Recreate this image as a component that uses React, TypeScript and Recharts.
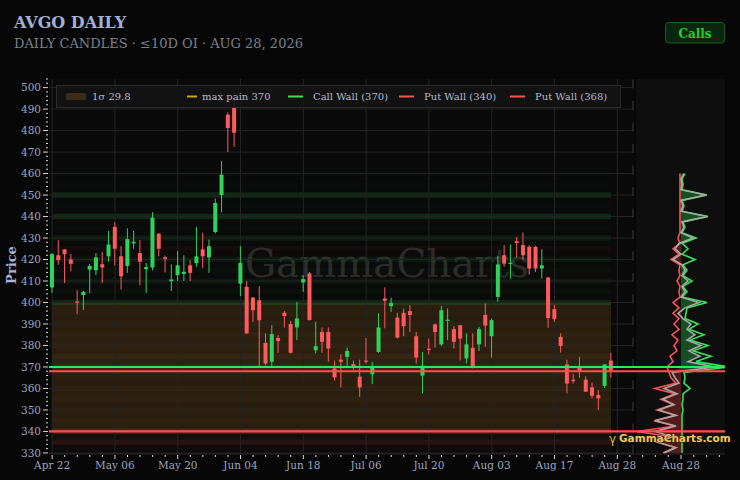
import React from 'react';
import { ComposedChart, Bar, Line, Area, XAxis, YAxis, ReferenceLine, ReferenceArea } from 'recharts';

// ---------- x axis (trading-day index) ----------
const xTickIndex = [0, 10, 20, 30, 40, 50, 60, 70, 80, 90];
const xTickLabels = ['Apr 22', 'May 06', 'May 20', 'Jun 04', 'Jun 18', 'Jul 06', 'Jul 20', 'Aug 03', 'Aug 17', 'Aug 28'];
const yTickLabels = [330, 340, 350, 360, 370, 380, 390, 400, 410, 420, 430, 440, 450, 460, 470, 480, 490, 500];

// ---------- daily candles ----------
const opens = [407, 422, 424.7, 420, 400.5, 403.5, 415.3, 415, 417.8, 421.5, 435.2, 421.5, 417, 427.5, 423, 415.5, 416.3, 432, 421, 409.9,
  412.7, 413.3, 417.3, 418.3, 424.7, 421, 432.8, 450, 487.4, 490.5, 408.8, 407.3, 402.3, 401, 381.2, 372.4, 383.5, 395.2, 390, 388.4,
  409.3, 413.5, 377.8, 386.3, 386.3, 369.3, 373.4, 374.7, 371.3, 365.5, 373, 366.6, 377, 401.9, 398.3, 393, 395.2, 396, 384.3, 366,
  378.5, 389.8, 380.5, 391.6, 387.6, 389.4, 374, 378.9, 380.5, 394.2, 384.3, 402.6, 422, 418, 428.5, 426.7, 425.9, 425.9, 415.8, 411.6,
  396.9, 384, 371.2, 364, 370, 364.1, 360.5, 357, 361.2, 373];
const highs = [423, 429, 424.8, 422.5, 405.7, 405.5, 418, 423, 423.5, 433.3, 437.3, 426.2, 434.5, 433.3, 429, 418.4, 442, 432.3, 421.8, 417.8,
  424, 422, 419.7, 435.2, 432.4, 429.3, 448.4, 465.7, 488.4, 494.4, 426.2, 410, 402.5, 407.6, 385.6, 389.4, 384.8, 396, 391.4, 400.3,
  412.7, 414.2, 391, 388.4, 388.4, 373, 376, 379, 373, 373.4, 383.5, 372.4, 395, 407, 402.3, 395.2, 397.2, 398.8, 386.3, 377,
  383.2, 390.2, 398.3, 397.2, 389, 389.5, 385.6, 385.6, 388.7, 399.5, 392.6, 421.7, 426.7, 427, 430.5, 432.6, 426.7, 426.3, 424.8, 412,
  399, 385.6, 373.4, 366.8, 374.8, 365.7, 362.8, 359.2, 371.3, 376.6];
const lows = [404.5, 417.5, 409, 414.5, 394.5, 396.5, 404.3, 412.7, 409, 419, 417.3, 406, 413.8, 425, 408, 404.5, 415, 421.5, 414, 405.3,
  410, 410, 410, 416.6, 416, 413.8, 432.1, 442, 470, 472.4, 403, 385.5, 391, 370, 370.8, 370, 376.6, 388.4, 376.3, 382.5,
  405, 391.7, 376.3, 376.6, 372.4, 363.6, 360.5, 370.4, 368.7, 356, 371.5, 362, 376.6, 388, 395.6, 383.2, 384.3, 386.3, 371.6, 357.7,
  375.8, 379, 379.8, 382.5, 378.6, 373, 371.6, 369.3, 377.4, 379.4, 374.3, 400.3, 416.6, 411, 421.2, 419.7, 413, 414.2, 411.2, 388.2,
  391, 376.7, 357.7, 362.3, 365, 358.4, 355.4, 350, 360.2, 365];
const closes = [422.5, 419.7, 422.5, 418, 400, 405, 417, 421, 416.3, 427, 425, 412.2, 429.5, 428.3, 419, 416.5, 439.5, 425, 420.3, 410.7,
  417.3, 414.3, 413.8, 421.5, 421.5, 426.2, 446.3, 459.5, 481.2, 479, 418.5, 385.6, 396.4, 391.7, 371.6, 385.3, 382, 393.7, 376.6, 392.6,
  410.9, 391.8, 379.7, 381.7, 378.6, 365.1, 372.4, 377.5, 369.8, 360.5, 372.5, 370, 388.4, 400.8, 399.8, 383.7, 389, 394.2, 374.4, 370.6,
  378, 386.3, 396.4, 392, 381.7, 383.2, 380.5, 370, 387.6, 389.3, 391.8, 417.7, 418.1, 418.5, 427.7, 422, 415.8, 415.8, 417.3, 392.8,
  392.2, 379.8, 362.3, 363.6, 368, 358.5, 356.6, 355.4, 371.2, 368.5];

// ---------- OI profile (≤10D) per strike ----------
const strikes = [460, 457.5, 455, 452.5, 450, 447.5, 445, 442.5, 440, 437.5, 435, 432.5, 430, 427.5, 425, 422.5, 420, 417.5, 415, 412.5,
  410, 407.5, 405, 402.5, 400, 397.5, 395, 392.5, 390, 387.5, 385, 382.5, 380, 377.5, 375, 372.5, 370, 367.5, 365, 362.5,
  360, 357.5, 355, 352.5, 350, 347.5, 345, 342.5, 340, 337.5, 335, 332.5, 330];
const callOI = [4, 1, 2, 1, 26, 1, 3, 1, 27, 2, 4, 1, 15, 1, 7, 1, 14, 2, 6, 2,
  11, 2, 6, 1, 26, 6, 5, 4, 17, 8, 23, 9, 27, 12, 30, 15, 48, 3, 4, 3,
  9, 2, 2, 1, 2, 1, 1, 1, 1, 1, 1, 1, 1];
const putOI = [1, 1, 1, 1, 1, 1, 1, 1, 1, 1, 1, 1, 3, 1, 8, 2, 10, 1, 2, 1,
  4, 1, 2, 1, 8, 2, 8, 2, 7, 2, 9, 3, 7, 4, 11, 8, 14, 12, 10, 5,
  26, 6, 20, 8, 24, 6, 27, 6, 44, 10, 24, 6, 18];
const netOI = [3, 0, 1, 0, 25, 0, 2, 0, 26, 1, 3, 0, 12, -2, -6, 0, -8, 1, 4, 1,
  7, 1, 4, 0, 18, 4, -3, 2, 10, 6, 14, 6, 20, 8, 19, 7, 34, -9, -6, -2,
  -17, -4, -18, -7, -22, -5, -26, -5, -26, -9, -23, -5, -17];

const callWall = 370;
const putWall1 = 340;
const putWall2 = 368;
const maxPain = 370;
const sigma = 29.8;

// ---------- derived tables ----------
const candles = opens.map((o, i) => ({ i, o, h: highs[i], l: lows[i], c: closes[i], range: [lows[i], highs[i]] }));
const profile = strikes.map((k, j) => ({
  k,
  call: callOI[j],
  put: -putOI[j],
  net: netOI[j],
  netPos: Math.max(netOI[j], 0),
  netNeg: Math.min(netOI[j], 0),
}));
const lastIdx = candles.length - 1;
const bandLo = maxPain - sigma;
const bandHi = maxPain + sigma;
const maxOI = Math.max(...callOI, ...putOI);

const xMinor: number[] = [];
for (let v = 0; v <= 92; v += 2) xMinor.push(v);
const yMinor: number[] = [];
for (let v = 330; v <= 504; v += 2) yMinor.push(v);
const profTicks = [-38.4, -25.6, -12.8, 0, 12.8, 25.6, 38.4];

const FONT = '"DejaVu Serif", serif';
const Y_DOMAIN: [number, number] = [329.5, 504];

const XTick = (props: any) => {
  const { x, y, payload } = props;
  const v = Math.round(payload.value);
  const idx = xTickIndex.indexOf(v);
  const major = idx >= 0;
  return (
    <g>
      <line x1={x} x2={x} y1={y + 1} y2={y + (major ? 5 : 3)} stroke="#d8d8d8" strokeWidth={1} />
      {major && (
        <text x={x} y={y + 15} textAnchor="middle" fill="#9aa4bf" fontSize={10.5} fontFamily={FONT}>
          {xTickLabels[idx]}
        </text>
      )}
    </g>
  );
};

const YTick = (props: any) => {
  const { x, y, payload } = props;
  const v = Math.round(payload.value);
  const major = yTickLabels.indexOf(v) >= 0;
  return (
    <g>
      <line x1={x - 1} x2={x - (major ? 6 : 3)} y1={y} y2={y} stroke="#d8d8d8" strokeWidth={1} />
      {major && (
        <text x={x - 8} y={y + 3.8} textAnchor="end" fill="#9aa4bf" fontSize={10.5} fontFamily={FONT}>
          {v}
        </text>
      )}
    </g>
  );
};

const ProfTick = (props: any) => {
  const { x, y, payload } = props;
  const major = Math.abs(payload.value) < 0.01;
  return (
    <g>
      <line x1={x} x2={x} y1={y + 1} y2={y + (major ? 5 : 3)} stroke="#d8d8d8" strokeWidth={1} />
      {major && (
        <text x={x} y={y + 15} textAnchor="middle" fill="#9aa4bf" fontSize={10.5} fontFamily={FONT}>
          {xTickLabels[xTickLabels.length - 1]}
        </text>
      )}
    </g>
  );
};

const Candle = (props: any) => {
  const { x, y, width, height, payload } = props;
  if (!payload || x == null) return null;
  const { o, c, h, l } = payload;
  const up = c >= o;
  const color = up ? '#2fd35a' : '#ff5b5b';
  const top = Math.min(y, y + height);
  const hh = Math.abs(height);
  const span = h - l;
  const ratio = span > 0 ? hh / span : 0;
  const cx = x + width / 2;
  const bodyTop = top + (h - Math.max(o, c)) * ratio;
  const bodyH = Math.max(Math.abs(o - c) * ratio, 1.2);
  return (
    <g>
      <line x1={cx} x2={cx} y1={top} y2={top + hh} stroke={color} strokeWidth={1} />
      <rect x={x} y={bodyTop} width={width} height={bodyH} fill={color} />
    </g>
  );
};

function stripStyle(j: number) {
  const k = strikes[j];
  const cv = callOI[j];
  const pv = putOI[j];
  if (k > bandLo && k < bandHi) {
    return { fill: '#b07a3a', op: 0.1 * (cv + pv) / maxOI };
  }
  if (cv >= pv) return { fill: '#2fbf4f', op: 0.3 * cv / maxOI };
  return { fill: '#d84040', op: 0.3 * pv / maxOI };
}

export default function App() {
  return (
    <div style={{ position: 'absolute', left: 0, top: 0, width: 740, height: 480, background: '#070707', overflow: 'hidden', fontFamily: FONT }}>
      {/* plot backgrounds */}
      <div style={{ position: 'absolute', left: 49, top: 79, width: 584, height: 375, background: '#0a0a0a' }} />
      <div style={{ position: 'absolute', left: 636, top: 79, width: 89, height: 375, background: '#0e0e0e' }} />
      {/* watermark */}
      <svg width={740} height={480} style={{ position: 'absolute', left: 0, top: 0 }}>
        <text x={387} y={277} textAnchor="middle" fontFamily={FONT} fontSize={39} fill="#2a2a2a">GammaCharts</text>
      </svg>

      {/* main candle chart */}
      <div style={{ position: 'absolute', left: 0, top: 0 }}>
        <ComposedChart width={640} height={480} data={candles} margin={{ top: 79, right: 7, bottom: 6, left: 9 }}>
          <XAxis type="number" dataKey="i" domain={[-0.5, 92.5]} ticks={xMinor} interval={0} tick={<XTick />} tickLine={false}
            tickSize={0} tickMargin={0} axisLine={{ stroke: '#2a2a2a' }} height={20} allowDataOverflow />
          <YAxis type="number" domain={Y_DOMAIN} ticks={yMinor} interval={0} tick={<YTick />} tickLine={false}
            tickSize={0} tickMargin={0} axisLine={false} width={40} allowDataOverflow />

          <ReferenceArea x1={0} x2={lastIdx} y1={bandLo} y2={bandHi} fill="#8a5a22" fillOpacity={0.24} stroke="none" zIndex={40} />
          {strikes.map((k, j) => {
            const s = stripStyle(j);
            return (
              <ReferenceArea key={'s' + k} x1={0} x2={lastIdx} y1={k - 1.25} y2={k + 1.25} fill={s.fill} fillOpacity={s.op}
                stroke="none" zIndex={41} />
            );
          })}

          {yTickLabels.map((v) => (
            <ReferenceLine key={'gy' + v} y={v} stroke="#242424" strokeWidth={1} zIndex={50} />
          ))}
          {xTickIndex.map((v) => (
            <ReferenceLine key={'gx' + v} x={v} stroke="#242424" strokeWidth={1} zIndex={50} />
          ))}
          <ReferenceLine x={92.5} stroke="#3c3c3c" strokeWidth={1} strokeDasharray="9 12.5" zIndex={50} />

          <Bar dataKey="range" barSize={4} isAnimationActive={false} shape={<Candle />} zIndex={300} />

          <ReferenceLine y={maxPain} stroke="#c9a90f" strokeWidth={1} strokeDasharray="4 3" zIndex={390} />
          <ReferenceLine y={callWall} stroke="#3de05a" strokeWidth={2} zIndex={400} />
          <ReferenceLine y={putWall2} stroke="#ff4f4f" strokeWidth={2} zIndex={400} />
          <ReferenceLine y={putWall1} stroke="#ff4f4f" strokeWidth={2.2} zIndex={400} />
        </ComposedChart>
      </div>

      {/* OI profile panel */}
      <div style={{ position: 'absolute', left: 633, top: 0 }}>
        <ComposedChart layout="vertical" width={100} height={480} data={profile} margin={{ top: 79, right: 8, bottom: 6, left: 0 }}>
          <XAxis type="number" domain={[-48, 44]} ticks={profTicks} interval={0} tick={<ProfTick />} tickLine={false}
            tickSize={0} tickMargin={0} axisLine={{ stroke: '#2a2a2a' }} height={20} allowDataOverflow />
          <YAxis type="number" dataKey="k" domain={Y_DOMAIN} hide reversed allowDataOverflow />
          <Area dataKey="netPos" type="linear" baseValue={0} fill="#1e7a32" fillOpacity={0.6} stroke="none" isAnimationActive={false} />
          <Area dataKey="netNeg" type="linear" baseValue={0} fill="#7a2424" fillOpacity={0.65} stroke="none" isAnimationActive={false} />
          <Line dataKey="put" type="linear" stroke="#ff5050" strokeWidth={1.6} dot={false} isAnimationActive={false} />
          <Line dataKey="call" type="linear" stroke="#36e35a" strokeWidth={1.6} dot={false} isAnimationActive={false} />
          <Line dataKey="net" type="linear" stroke="#a8a8a8" strokeWidth={1.6} dot={false} isAnimationActive={false} />
          <ReferenceLine y={callWall} stroke="#3de05a" strokeWidth={2} zIndex={1500} />
          <ReferenceLine y={putWall2} stroke="#ff4f4f" strokeWidth={2} zIndex={1500} />
          <ReferenceLine y={putWall1} stroke="#ff4f4f" strokeWidth={2.2} zIndex={1500} />
        </ComposedChart>
      </div>

      {/* overlay texts */}
      <svg width={740} height={480} style={{ position: 'absolute', left: 0, top: 0, pointerEvents: 'none' }}>
        <text x={14} y={28} fontFamily={FONT} fontWeight="bold" fontSize={16} fill="#a0b0d8">AVGO DAILY</text>
        <text x={14} y={48} fontFamily={FONT} fontSize={13} fill="#7a808c">DAILY CANDLES · ≤10D OI · AUG 28, 2026</text>

        <rect x={665.5} y={22.5} width={59} height={20.5} rx={3} fill="#0a260c" stroke="#1d5a21" />
        <text x={695} y={38} textAnchor="middle" fontFamily={FONT} fontWeight="bold" fontSize={12} fill="#22cf30">Calls</text>

        <text transform="translate(16,265) rotate(-90)" textAnchor="middle" fontFamily={FONT} fontWeight="bold" fontSize={13} fill="#a6b4d8">Price</text>

        <rect x={56.5} y={85.5} width={564} height={22} fill="#141414" fillOpacity={0.85} stroke="#2c2c2c" />
        <rect x={66} y={93} width={20} height={7} fill="#3b2b19" />
        <text x={92} y={100} fontFamily={FONT} fontSize={10} fill="#b2bacb">1σ {sigma}</text>
        <line x1={187} x2={197} y1={96.5} y2={96.5} stroke="#c9a90f" strokeWidth={2} />
        <text x={202} y={100} fontFamily={FONT} fontSize={10} fill="#b2bacb">max pain {maxPain}</text>
        <line x1={288} x2={303} y1={96.5} y2={96.5} stroke="#3de05a" strokeWidth={2} />
        <text x={313} y={100} fontFamily={FONT} fontSize={10} fill="#b2bacb">Call Wall ({callWall})</text>
        <line x1={399} x2={414} y1={96.5} y2={96.5} stroke="#ff5050" strokeWidth={2} />
        <text x={424} y={100} fontFamily={FONT} fontSize={10} fill="#b2bacb">Put Wall ({putWall1})</text>
        <line x1={510} x2={525} y1={96.5} y2={96.5} stroke="#ff5050" strokeWidth={2} />
        <text x={535} y={100} fontFamily={FONT} fontSize={10} fill="#b2bacb">Put Wall ({putWall2})</text>

        <text x={609} y={443} fontFamily='"DejaVu Sans", sans-serif' fontSize={12} fill="#d9b445">γ</text>
        <text x={619} y={442} fontFamily='"DejaVu Sans", sans-serif' fontWeight="bold" fontSize={10.5} fill="#ebc75e"
          stroke="#2a1e00" strokeWidth={0.8} style={{ paintOrder: 'stroke' }}>GammaCharts.com</text>
      </svg>
    </div>
  );
}
